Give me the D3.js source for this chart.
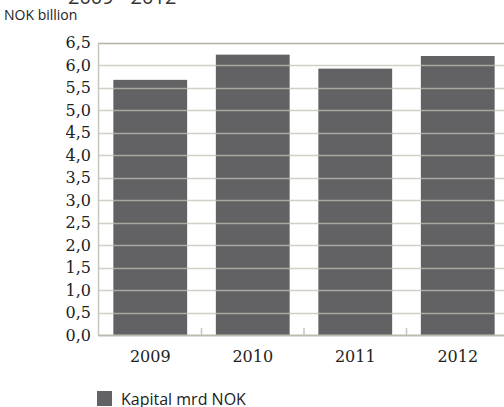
<!DOCTYPE html>
<html>
<head>
<meta charset="utf-8">
<script src="https://cdn.jsdelivr.net/npm/d3@7"></script>
<style>
  html, body { margin: 0; padding: 0; background: #fff; }
  svg { display: block; }
</style>
</head>
<body>
<script>
// Capital per year, NOK billion
const years = ["2009", "2010", "2011", "2012"];
const capital = [5.67, 6.23, 5.92, 6.2];
const yTicks = [0, 0.5, 1, 1.5, 2, 2.5, 3, 3.5, 4, 4.5, 5, 5.5, 6, 6.5];
const seriesName = "Kapital mrd NOK";
const unitLabel = "NOK billion";
const titleText = "2009 - 2012";

const W = 504, H = 407;
const plot = { left: 99, right: 509, top: 42.5, bottom: 335 };

const svg = d3.select("body").append("svg")
  .attr("width", W).attr("height", H);

const x = d3.scaleBand().domain(years)
  .range([plot.left, plot.right]).paddingInner(0.28).paddingOuter(0.14);
const y = d3.scaleLinear().domain([0, 6.5]).range([plot.bottom, plot.top]);

const fmt = d => d.toFixed(1).replace(".", ",");

// Title (runs off the top edge of the page)
svg.append("text").attr("x", 68).attr("y", 4)
  .attr("font-family", "Open Sans, sans-serif").attr("font-size", 20)
  .attr("fill", "#333").text(titleText);

svg.append("text").attr("x", 4).attr("y", 20)
  .attr("font-family", "Open Sans, sans-serif").attr("font-size", 14)
  .attr("fill", "#222").text(unitLabel);

// Bars
svg.append("g").selectAll("rect").data(years).join("rect")
  .attr("x", d => x(d))
  .attr("width", x.bandwidth())
  .attr("y", (d, i) => y(capital[i]))
  .attr("height", (d, i) => y(0) - y(capital[i]))
  .attr("fill", "#626264");

// Gridlines drawn over the bars
svg.append("g").selectAll("line").data(yTicks.filter(t => t > 0)).join("line")
  .attr("x1", plot.left).attr("x2", W)
  .attr("y1", d => Math.round(y(d)) + 0.5).attr("y2", d => Math.round(y(d)) + 0.5)
  .attr("stroke", d => d === 6.5 ? "#b4ae9f" : "#c2c0b4")
  .attr("stroke-opacity", d => d === 6.5 ? 1 : 0.75)
  .attr("stroke-width", 1.4);

// Left axis line
svg.append("line")
  .attr("x1", plot.left - 0.5).attr("x2", plot.left - 0.5)
  .attr("y1", plot.top).attr("y2", plot.bottom + 1)
  .attr("stroke", "#c8c6bc").attr("stroke-width", 1.5);

// Baseline
svg.append("line")
  .attr("x1", plot.left - 1).attr("x2", W)
  .attr("y1", plot.bottom + 0.5).attr("y2", plot.bottom + 0.5)
  .attr("stroke", "#bdbbb0").attr("stroke-width", 2);

// Category separators at the baseline
const seps = years.slice(1).map(d => x(d) - x.step() * x.paddingInner() / 2);
svg.append("g").selectAll("line").data(seps).join("line")
  .attr("x1", d => d).attr("x2", d => d)
  .attr("y1", plot.bottom).attr("y2", plot.bottom - 7)
  .attr("stroke", "#c8c6bc").attr("stroke-width", 1.5);

// Y tick labels
svg.append("g").selectAll("text").data(yTicks).join("text")
  .attr("x", 91).attr("y", d => y(d))
  .attr("dy", "0.35em")
  .attr("text-anchor", "end")
  .attr("font-family", "DejaVu Serif, serif").attr("font-size", 16)
  .attr("fill", "#222").text(fmt);

// X tick labels
svg.append("g").selectAll("text").data(years).join("text")
  .attr("x", d => x(d) + x.bandwidth() / 2).attr("y", 362)
  .attr("text-anchor", "middle")
  .attr("font-family", "DejaVu Serif, serif").attr("font-size", 16)
  .attr("fill", "#222").text(d => d);

// Legend
svg.append("rect").attr("x", 97).attr("y", 391).attr("width", 15).attr("height", 15)
  .attr("fill", "#626264");
svg.append("text").attr("x", 121).attr("y", 405)
  .attr("font-family", "Open Sans, sans-serif").attr("font-size", 16)
  .attr("fill", "#222").text(seriesName);
</script>
</body>
</html>
